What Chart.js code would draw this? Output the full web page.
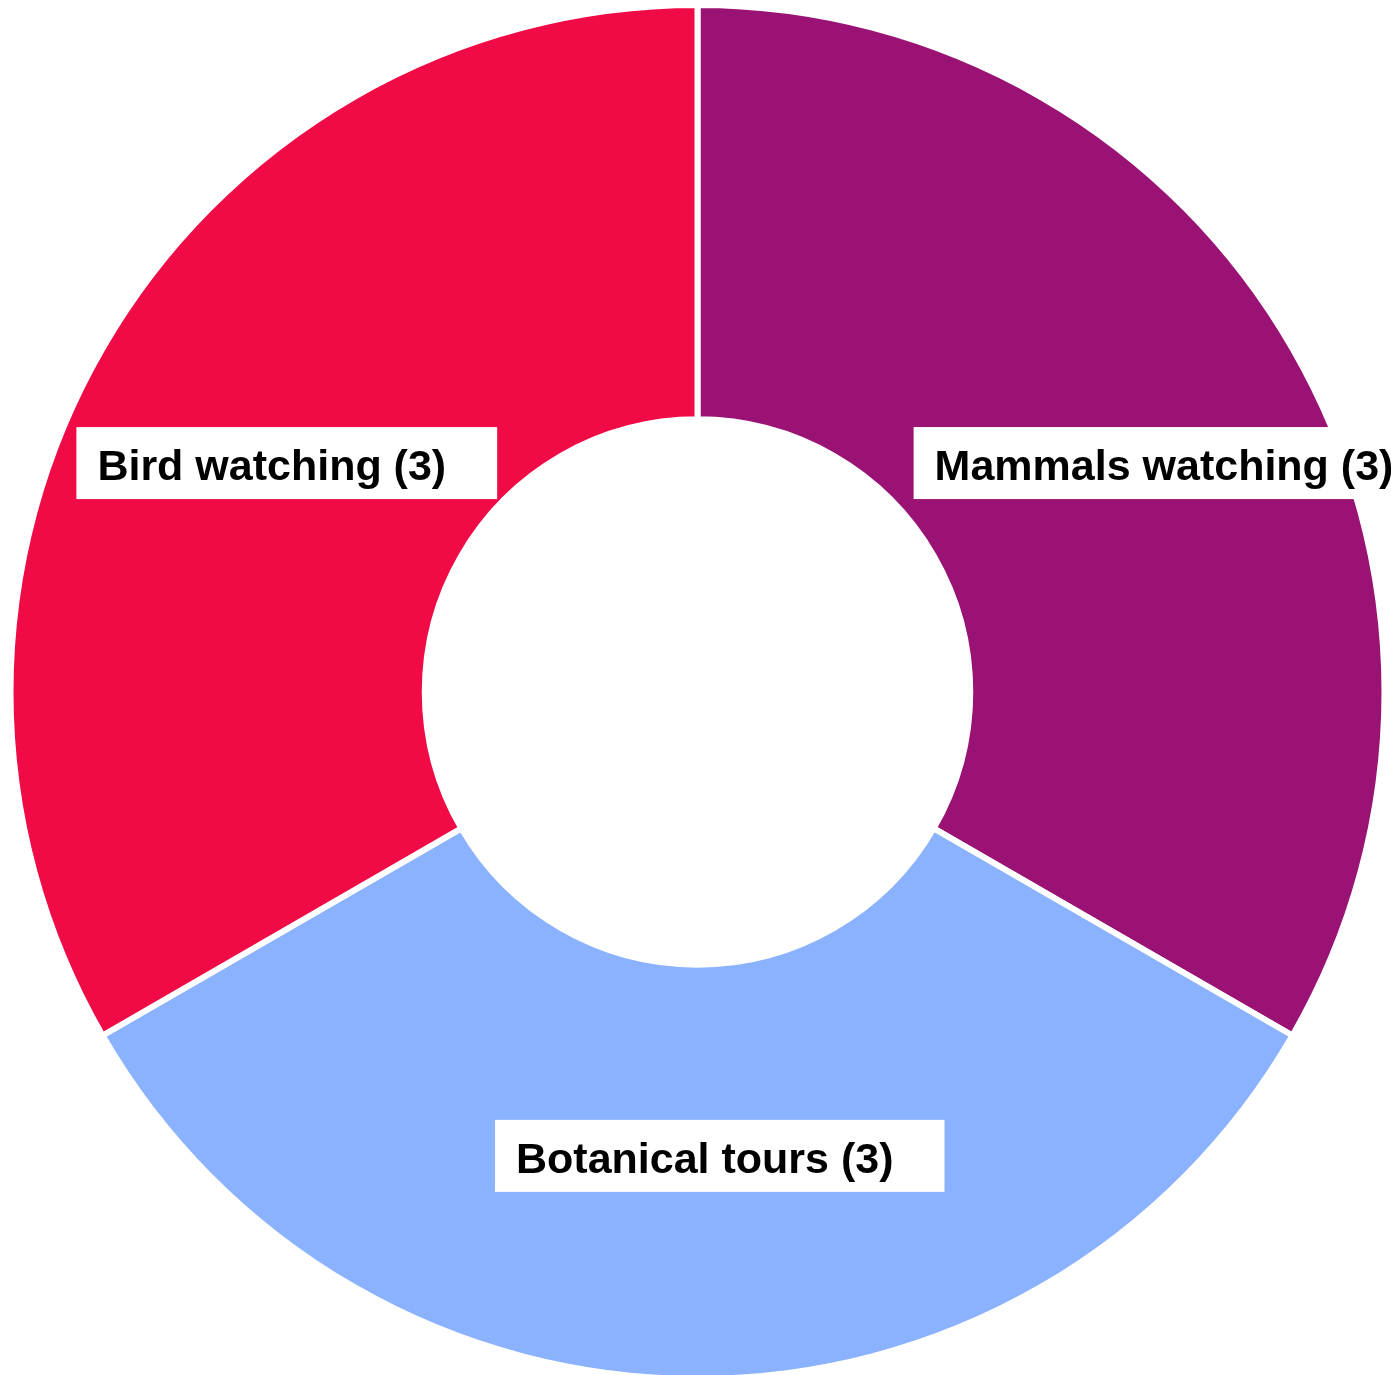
<!DOCTYPE html>
<html lang="en">
  <head>
    <meta charset="UTF-8" />
    <title>Tour types</title>
    <script src="https://cdn.jsdelivr.net/npm/chart.js"></script>
    <style>
      html, body { margin: 0; padding: 0; background: #fff; overflow: hidden; }
      canvas { display: block; }
    </style>
  </head>
  <body>
    <canvas id="toursChart" width="1391" height="1384"></canvas>

    <script>
      // tour categories and how many tours each one has
      const categories = ["Mammals watching", "Botanical tours", "Bird watching"];
      const tourCounts = [3, 3, 3];
      const sliceColors = ["#991274", "#8bb2ff", "#f00a46"];

      // white boxed label drawn over each slice: "Name (count)"
      const sliceLabels = {
        id: "sliceLabels",
        afterDatasetsDraw(chart) {
          const { ctx } = chart;
          const meta = chart.getDatasetMeta(0);
          ctx.save();
          ctx.font = "bold 43px 'Liberation Sans', Arial, sans-serif";
          ctx.textBaseline = "alphabetic";
          ctx.textAlign = "left";
          meta.data.forEach((arc, i) => {
            const p = arc.getProps(["x", "y", "startAngle", "endAngle", "innerRadius", "outerRadius"], true);
            const mid = (p.startAngle + p.endAngle) / 2;
            const rx = (p.innerRadius + p.outerRadius) / 2 + 3.5;
            const ry = rx - 21.5;
            const ax = p.x + rx * Math.cos(mid) + 1.5;
            const ay = p.y + ry * Math.sin(mid) + 2;

            const text = categories[i] + " (" + tourCounts[i] + ")";
            const textW = ctx.measureText(text).width;
            const boxH = 72;
            const boxX = ax - 204;
            const boxY = ay - boxH / 2;
            const boxW = Math.min(textW + 72, chart.width - 34 - boxX);

            ctx.fillStyle = "#ffffff";
            ctx.fillRect(boxX, boxY, boxW, boxH);
            ctx.fillStyle = "#000000";
            ctx.fillText(text, boxX + 21, boxY + 53);
          });
          ctx.restore();
        },
      };

      const ctx = document.getElementById("toursChart").getContext("2d");
      new Chart(ctx, {
        type: "doughnut",
        data: {
          labels: categories,
          datasets: [
            {
              data: tourCounts,
              backgroundColor: sliceColors,
              borderColor: "#ffffff",
              borderWidth: 6,
              hoverOffset: 0,
            },
          ],
        },
        options: {
          responsive: false,
          animation: false,
          cutout: "39.7%",
          layout: {
            padding: { left: 4, right: 0, top: 2, bottom: 2 },
          },
          plugins: {
            legend: { display: false },
            tooltip: { enabled: false },
          },
        },
        plugins: [sliceLabels],
      });
    </script>
  </body>
</html>
